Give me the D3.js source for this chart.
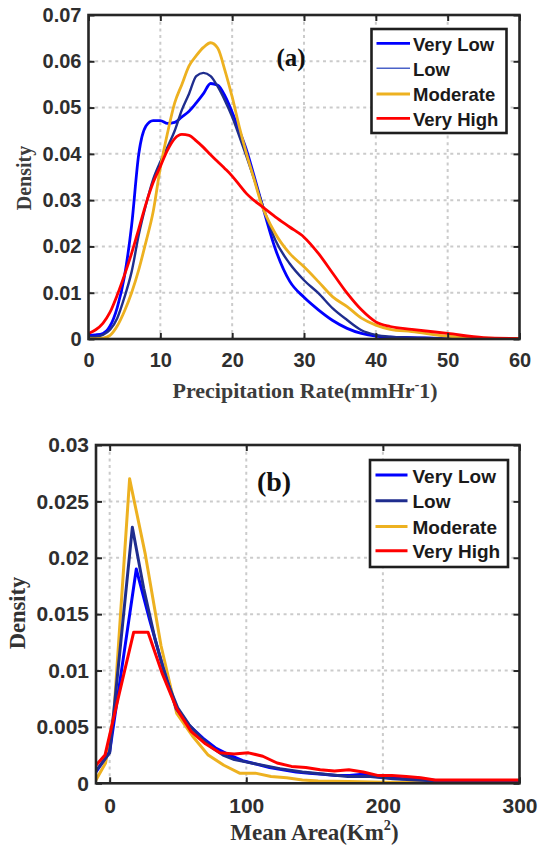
<!DOCTYPE html>
<html><head><meta charset="utf-8">
<script src="https://cdn.jsdelivr.net/npm/d3@7"></script>
<style>body{margin:0;background:#fff} svg{display:block}</style>
</head><body>
<svg id="c" width="543" height="847"></svg>
<script>
// ---------- Panel (a): Precipitation Rate density ----------
const seriesNames = ["Very Low", "Low", "Moderate", "Very High"];
const rateX = [0,1,2,3,4,5,6,7,8,9,10,11,12,13,14,15,16,17,18,19,20,21,22,23,24,26,28,30,32,34,36,38,40,42,45,50,55,60];
const rateVeryLow = [0.0008,0.0009,0.0012,0.0028,0.0068,0.0135,0.0245,0.0400,0.0460,0.0472,0.0472,0.0466,0.0468,0.0480,0.0492,0.0510,0.0530,0.0552,0.0548,0.0525,0.0490,0.0450,0.0408,0.0355,0.0300,0.0195,0.0125,0.0090,0.0063,0.0040,0.0023,0.0012,0.0006,0.0004,0.0003,0.0001,0.0001,0.0001];
const rateLow = [0.0005,0.0005,0.0009,0.0020,0.0045,0.0090,0.0145,0.0225,0.0290,0.0345,0.0383,0.0415,0.0450,0.0495,0.0530,0.0568,0.0575,0.0568,0.0545,0.0515,0.0480,0.0438,0.0394,0.0348,0.0300,0.0214,0.0163,0.0127,0.0099,0.0066,0.0041,0.0019,0.0009,0.0005,0.0003,0.0001,0.0001,0.0001];
const rateModerate = [0.0001,0.0001,0.0002,0.0008,0.0028,0.0060,0.0100,0.0150,0.0210,0.0275,0.0370,0.0445,0.0510,0.0550,0.0590,0.0612,0.0630,0.0640,0.0628,0.0580,0.0523,0.0458,0.0400,0.0348,0.0295,0.0228,0.0185,0.0156,0.0124,0.0091,0.0070,0.0045,0.0030,0.0021,0.0016,0.0006,0.0002,0.0001];
const rateVeryHigh = [0.0012,0.0020,0.0034,0.0058,0.0095,0.0138,0.0185,0.0238,0.0292,0.0338,0.0373,0.0408,0.0433,0.0442,0.0440,0.0428,0.0414,0.0398,0.0383,0.0368,0.0352,0.0333,0.0314,0.0300,0.0288,0.0264,0.0242,0.0220,0.0185,0.0142,0.0099,0.0063,0.0037,0.0027,0.0021,0.0012,0.0003,0.0001];
const rateXTicks = [0,10,20,30,40,50,60];
const rateYTicks = [0,0.01,0.02,0.03,0.04,0.05,0.06,0.07];

// ---------- Panel (b): Mean Area density ----------
const areaVeryLowX = [-10,0,9.75,19.5,29.25,39,48.75,58.5,68.25,78,87.75,97.5,107.25,117,126.75,136.5,146.25,156,165.75,175.5,185.25,195,204.75,214.5,224.25,234,243.75,260,280,300];
const areaVeryLowY = [0.0010,0.0028,0.0109,0.0190,0.0145,0.0103,0.0066,0.0051,0.0040,0.0031,0.0025,0.0020,0.0017,0.0014,0.0012,0.0010,0.0009,0.0008,0.0007,0.0007,0.0008,0.0006,0.0005,0.0004,0.0005,0.0003,0.0002,0.0002,0.0002,0.00015];
const areaLowX = [-10,0,8.3,16.6,24.9,33.2,41.5,49.8,58.1,66.4,74.7,83,91.3,99.6,107.9,116.2,124.5,141.1,157.7,174.3,190.9,207.5,224.1,240,260,300];
const areaLowY = [0.0011,0.0027,0.0127,0.0227,0.0173,0.0128,0.0092,0.0067,0.0052,0.0041,0.0032,0.0025,0.0021,0.0019,0.0017,0.0015,0.0013,0.0010,0.0008,0.0006,0.0006,0.0004,0.0003,0.0002,0.0002,0.0001];
const areaModerateX = [-10,-3,3.1,14.6,26.1,37.6,49.1,60.6,72.1,83.6,95.1,106.6,118.1,129.6,141.1,152.6,175,200,250,300];
const areaModerateY = [0.0003,0.0018,0.0062,0.0270,0.0203,0.0122,0.0062,0.0042,0.0025,0.0016,0.0009,0.0009,0.0006,0.0005,0.0003,0.0002,0.00015,0.0001,0.00005,0.00003];
const areaVeryHighX = [-10,-3.4,7.1,17.6,28.1,38.6,49.1,59.6,70.1,80.6,91.1,101.6,112.1,122.6,133.1,143.6,154.1,164.6,175.1,185.6,196.1,206.6,217.1,227.6,238.1,248.6,300];
const areaVeryHighY = [0.0016,0.0025,0.0080,0.0134,0.0134,0.0097,0.0066,0.0046,0.0035,0.0027,0.0026,0.0027,0.0024,0.0018,0.0015,0.0014,0.0012,0.0011,0.0012,0.0010,0.0007,0.0007,0.0006,0.0005,0.0003,0.0003,0.0003];
const areaXTicks = [0,100,200,300];
const areaYTicks = [0,0.005,0.01,0.015,0.02,0.025,0.03];

const colors = {"Very Low":"#0000ff","Low":"#1f2d8e","Moderate":"#EDB120","Very High":"#ff0000"};

const svg = d3.select("#c");
const fmt = d3.format("~g");
const SANS = "'Liberation Sans', Arial, sans-serif";
const SERIF = "'Liberation Serif', 'Times New Roman', serif";

function panel(cfg){
  const g = svg.append("g");
  const x = d3.scaleLinear().domain(cfg.xDomain).range([cfg.left, cfg.right]);
  const y = d3.scaleLinear().domain(cfg.yDomain).range([cfg.bottom, cfg.top]);
  const W = cfg.right - cfg.left, H = cfg.bottom - cfg.top;

  // grid
  const gridX = cfg.xTicks.filter(v => x(v) > cfg.left + 3 && x(v) < cfg.right - 3);
  const gridY = cfg.yTicks.filter(v => y(v) < cfg.bottom - 3 && y(v) > cfg.top + 3);
  g.append("g").selectAll("line").data(gridX).join("line")
    .attr("x1", d => x(d)).attr("x2", d => x(d)).attr("y1", cfg.top).attr("y2", cfg.bottom)
    .attr("stroke", "#cbcbcb").attr("stroke-width", 2).attr("stroke-dasharray", "3,3.7");
  g.append("g").selectAll("line").data(gridY).join("line")
    .attr("y1", d => y(d)).attr("y2", d => y(d)).attr("x1", cfg.left).attr("x2", cfg.right)
    .attr("stroke", "#cbcbcb").attr("stroke-width", 2).attr("stroke-dasharray", "3,3.7");

  // clip
  const clipId = "clip" + cfg.id;
  svg.append("defs").append("clipPath").attr("id", clipId).append("rect")
    .attr("x", cfg.left).attr("y", cfg.top - 2).attr("width", W).attr("height", H + 1);

  const lines = g.append("g").attr("clip-path", `url(#${clipId})`);
  cfg.series.forEach(s => {
    const pts = s.xs.map((v, i) => [v, s.ys[i]]);
    const line = d3.line().x(d => x(d[0])).y(d => y(d[1])).curve(cfg.curve);
    lines.append("path").attr("d", line(pts)).attr("fill", "none")
      .attr("stroke", colors[s.name]).attr("stroke-width", s.width)
      .attr("stroke-linejoin", "round").attr("stroke-linecap", "round");
  });

  // axes with inward ticks
  const tickStyle = sel => {
    sel.select(".domain").remove();
    sel.selectAll(".tick line").attr("stroke", "#262626").attr("stroke-width", 2);
    sel.selectAll(".tick text").attr("fill", "#2e2e2e")
      .style("font-family", SANS).style("font-weight", "bold").style("font-size", cfg.tickFont + "px");
  };
  g.append("g").attr("transform", `translate(${cfg.left},0)`)
    .call(d3.axisLeft(y).tickValues(cfg.yTicks).tickFormat(fmt).tickSizeInner(-6).tickSizeOuter(0).tickPadding(7))
    .call(tickStyle);
  g.append("g").attr("transform", `translate(${cfg.right},0)`)
    .call(d3.axisRight(y).tickValues(cfg.yTicks).tickFormat("").tickSizeInner(-6).tickSizeOuter(0))
    .call(tickStyle);
  g.append("g").attr("transform", `translate(0,${cfg.bottom})`)
    .call(d3.axisBottom(x).tickValues(cfg.xTicks).tickFormat(fmt).tickSizeInner(-6).tickSizeOuter(0).tickPadding(cfg.xPad))
    .call(tickStyle);
  g.append("g").attr("transform", `translate(0,${cfg.top})`)
    .call(d3.axisTop(x).tickValues(cfg.xTicks).tickFormat("").tickSizeInner(-6).tickSizeOuter(0))
    .call(tickStyle);

  // frame
  g.append("rect").attr("x", cfg.left).attr("y", cfg.top).attr("width", W).attr("height", H)
    .attr("fill", "none").attr("stroke", "#262626").attr("stroke-width", 2.6);

  // panel tag
  g.append("text").attr("x", cfg.tag.x).attr("y", cfg.tag.y).attr("text-anchor", "middle")
    .style("font-family", SERIF).style("font-weight", "bold").style("font-size", cfg.tag.size + "px")
    .attr("fill", "#111").text(cfg.tag.text);

  // legend
  const L = cfg.legend;
  g.append("rect").attr("x", L.x0).attr("y", L.y0).attr("width", L.x1 - L.x0).attr("height", L.y1 - L.y0)
    .attr("fill", "#fff").attr("stroke", "#1e1e1e").attr("stroke-width", 2.6);
  cfg.series.slice().sort((a, b) => seriesNames.indexOf(a.name) - seriesNames.indexOf(b.name)).forEach((s, i) => {
    const yy = L.rows[i];
    g.append("line").attr("x1", L.lx0).attr("x2", L.lx1).attr("y1", yy).attr("y2", yy)
      .attr("stroke", s.legendColor || colors[s.name]).attr("stroke-width", s.legendWidth || s.width);
    g.append("text").attr("x", L.tx).attr("y", yy + L.font * 0.4).attr("fill", "#1a1a1a")
      .style("font-family", SANS).style("font-weight", "bold").style("font-size", L.font + "px")
      .text(s.name);
  });

  // axis labels
  const xl = g.append("text").attr("x", cfg.xLabel.x).attr("y", cfg.xLabel.y).attr("text-anchor", "middle")
    .style("font-family", SERIF).style("font-weight", "bold").style("font-size", cfg.xLabel.size + "px")
    .attr("fill", cfg.labelColor);
  xl.append("tspan").text(cfg.xLabel.pre);
  xl.append("tspan").attr("dy", -cfg.xLabel.size * 0.42).style("font-size", (cfg.xLabel.size * 0.62) + "px").text(cfg.xLabel.sup);
  xl.append("tspan").attr("dy", cfg.xLabel.size * 0.42).text(cfg.xLabel.post);

  g.append("text").attr("transform", `translate(${cfg.yLabel.x},${cfg.yLabel.y}) rotate(-90)`)
    .attr("text-anchor", "middle")
    .style("font-family", SERIF).style("font-weight", "bold").style("font-size", cfg.yLabel.size + "px")
    .attr("fill", cfg.labelColor).text("Density");
}

panel({
  id: "a", left: 88.5, right: 519.5, top: 15, bottom: 339,
  xDomain: [0, 60], yDomain: [0, 0.07], xTicks: rateXTicks, yTicks: rateYTicks,
  tickFont: 20, xPad: 14, curve: d3.curveMonotoneX, labelColor: "#3c3c3c",
  series: [
    {name: "Very Low", xs: rateX, ys: rateVeryLow, width: 2.8},
    {name: "Low", xs: rateX, ys: rateLow, width: 2.4, legendColor: "#4a62c8", legendWidth: 1.6},
    {name: "Moderate", xs: rateX, ys: rateModerate, width: 2.8},
    {name: "Very High", xs: rateX, ys: rateVeryHigh, width: 2.8}
  ],
  tag: {text: "(a)", x: 291, y: 66, size: 25},
  legend: {x0: 371.5, x1: 506.5, y0: 29, y1: 133, lx0: 376.5, lx1: 410, tx: 413, rows: [43.3, 68.3, 94, 118.3], font: 18.5},
  xLabel: {pre: "Precipitation Rate(mmHr", sup: "-", post: "1)", x: 305, y: 398, size: 22},
  yLabel: {x: 31, y: 178, size: 20}
});

panel({
  id: "b", left: 96, right: 519.5, top: 445, bottom: 783.3,
  xDomain: [-10, 300], yDomain: [0, 0.03], xTicks: areaXTicks, yTicks: areaYTicks,
  tickFont: 21, xPad: 14.5, curve: d3.curveLinear, labelColor: "#333",
  series: [
    {name: "Moderate", xs: areaModerateX, ys: areaModerateY, width: 3},
    {name: "Very Low", xs: areaVeryLowX, ys: areaVeryLowY, width: 3},
    {name: "Low", xs: areaLowX, ys: areaLowY, width: 3},
    {name: "Very High", xs: areaVeryHighX, ys: areaVeryHighY, width: 3}
  ],
  tag: {text: "(b)", x: 274, y: 491, size: 28},
  legend: {x0: 370, x1: 508, y0: 460, y1: 567, lx0: 375.5, lx1: 407.5, tx: 412.5, rows: [475, 500.7, 526.5, 550.7], font: 19},
  xLabel: {pre: "Mean Area(Km", sup: "2", post: ")", x: 314.5, y: 840, size: 23},
  yLabel: {x: 25, y: 613, size: 22.5}
});
</script>
</body></html>
